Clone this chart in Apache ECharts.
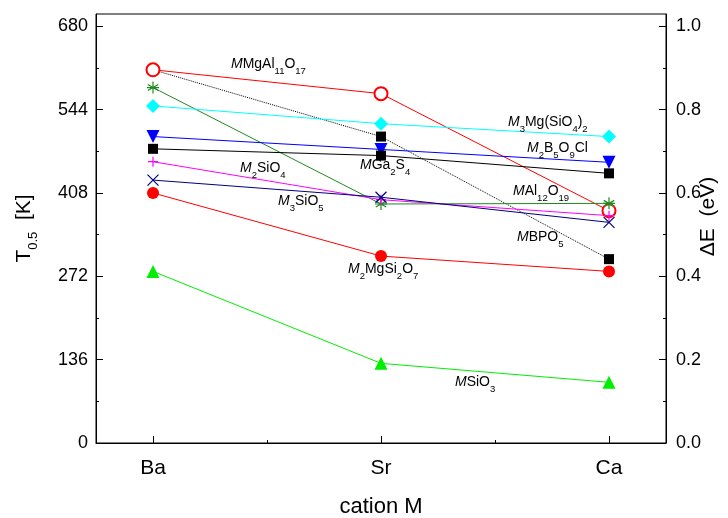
<!DOCTYPE html>
<html lang="en">
  <head>
    <meta charset="UTF-8" />
    <title>T0.5 vs cation M</title>
    <script src="https://cdn.jsdelivr.net/npm/echarts@6.0.0/dist/echarts.min.js"></script>
  </head>
  <body style="margin: 0">
    <div id="main" style="width: 728px; height: 518px"></div>
    <script type="text/javascript">
      const cations = ["Ba", "Sr", "Ca"];
      const leftTicks = [0, 136, 272, 408, 544, 680];
      const leftMinor = [68, 204, 340, 476, 612];
      const rightTicks = [0, 0.2, 0.4, 0.6, 0.8, 1.0];
      const rightMinor = [0.1, 0.3, 0.5, 0.7, 0.9];

      // T0.5 in K for Ba, Sr, Ca
      const mgAl11O17 = [609, 570, 379];
      const bpo5 = [609, 500, 300];
      const al12O19 = [580, 390, 391];
      const mg3SiO4_2 = [550, 521, 500];
      const b5O9Cl = [500, 479, 458];
      const ga2S4 = [480, 469, 440];
      const siO4 = [459, 397, 371];
      const siO5 = [429, 401, 360];
      const mgSi2O7 = [408, 305, 280];
      const siO3 = [280, 130, 99];

      const font = "Liberation Sans, Arial, Helvetica, sans-serif";
      const TMAX = 700;

      const star = "path://M0,-1L0,1M-0.87,-0.5L0.87,0.5M-0.87,0.5L0.87,-0.5M-1,0L1,0";
      const plus = "path://M0,-1L0,1M-1,0L1,0";
      const cross = "path://M-1,-1L1,1M-1,1L1,-1";

      function pts(values) {
        return values.map((v, i) => [i + 1, v]);
      }

      function line(name, values, color, symbol, size, opts) {
        opts = opts || {};
        const s = {
          name: name,
          type: "line",
          data: opts.data || pts(values),
          symbol: symbol,
          symbolSize: size,
          symbolRotate: opts.rotate || 0,
          lineStyle: { color: color, width: 1, type: opts.dash || "solid" },
          itemStyle: { color: color },
        };
        if (opts.stroke) {
          s.itemStyle = { color: "rgba(0,0,0,0)", borderColor: color, borderWidth: 1.2 };
        }
        if (symbol === "emptyCircle") {
          s.itemStyle = { color: color, borderWidth: 1.2 };
        }
        return s;
      }

      const bpo5Data = pts(bpo5);
      bpo5Data[0] = { value: bpo5Data[0], symbol: "none" };

      const series = [
        line("MBPO5", bpo5, "#000000", "rect", 10, { dash: "dotted", data: bpo5Data }),
        line("MMgAl11O17", mgAl11O17, "#ff0000", "emptyCircle", 13),
        line("MAl12O19", al12O19, "#1f8a1f", star, 12, { stroke: true }),
        line("M3Mg(SiO4)2", mg3SiO4_2, "#00ffff", "diamond", 14),
        line("M2B5O9Cl", b5O9Cl, "#0000ff", "triangle", 13, { rotate: 180 }),
        line("MGa2S4", ga2S4, "#000000", "rect", 10),
        line("M2SiO4", siO4, "#ff00ff", plus, 10, { stroke: true }),
        line("M3SiO5", siO5, "#000080", cross, 11, { stroke: true }),
        line("M2MgSi2O7", mgSi2O7, "#ff0000", "circle", 12),
        line("MSiO3", siO3, "#00ee00", "triangle", 13),
      ];

      const rich = {
        i: { fontStyle: "italic", fontSize: 14, lineHeight: 16, padding: [0, 0, 5, 0], verticalAlign: "bottom", fontFamily: font },
        n: { fontSize: 14, lineHeight: 16, padding: [0, 0, 5, 0], verticalAlign: "bottom", fontFamily: font },
        s: { fontSize: 9.5, lineHeight: 10, verticalAlign: "bottom", fontFamily: font },
      };

      const labels = [
        { t: "{i|M}{n|MgAl}{s|11}{n|O}{s|17}", x: 231, y: 68 },
        { t: "{i|M}{s|3}{n|Mg(SiO}{s|4}{n|)}{s|2}", x: 508, y: 126 },
        { t: "{i|M}{s|2}{n|B}{s|5}{n|O}{s|9}{n|Cl}", x: 527, y: 152 },
        { t: "{i|M}{n|Ga}{s|2}{n|S}{s|4}", x: 360, y: 169 },
        { t: "{i|M}{s|2}{n|SiO}{s|4}", x: 240, y: 172 },
        { t: "{i|M}{s|3}{n|SiO}{s|5}", x: 278, y: 205 },
        { t: "{i|M}{n|Al}{s|12}{n|O}{s|19}", x: 513, y: 195 },
        { t: "{i|M}{n|BPO}{s|5}", x: 517, y: 241 },
        { t: "{i|M}{s|2}{n|MgSi}{s|2}{n|O}{s|7}", x: 348, y: 273 },
        { t: "{i|M}{n|SiO}{s|3}", x: 455, y: 386 },
      ];

      const graphic = labels.map((l) => ({
        type: "text",
        x: l.x,
        y: l.y,
        z: 100,
        style: {
          text: l.t,
          rich: rich,
          fill: "#000",
          fontFamily: font,
          fontSize: 14,
          align: "left",
          verticalAlign: "middle",
          textAlign: "left",
          textVerticalAlign: "middle",
        },
      }));

      const black = { lineStyle: { color: "#000", width: 1 } };

      const options = {
        animation: false,
        backgroundColor: "#fff",
        grid: {
          left: 96,
          right: 62,
          top: 14,
          bottom: 75,
          outerBoundsMode: "none",
          containLabel: false,
          show: true,
          borderColor: "#000",
          borderWidth: 1,
          backgroundColor: "transparent",
        },
        xAxis: [
          {
            type: "value",
            min: 0.75,
            max: 3.25,
            position: "bottom",
            name: "cation M",
            nameLocation: "middle",
            nameGap: 53,
            nameTextStyle: { fontSize: 22, fontFamily: font, color: "#000" },
            axisLine: black,
            axisTick: { inside: true, length: 7, lineStyle: { color: "#000" }, customValues: [1, 2, 3] },
            axisLabel: {
              customValues: [1, 2, 3],
              formatter: (v) => cations[Math.round(v) - 1],
              fontSize: 21,
              fontFamily: font,
              color: "#000",
              margin: 15,
            },
            splitLine: { show: false },
          },
          {
            type: "value",
            min: 0.75,
            max: 3.25,
            position: "bottom",
            axisLine: { show: false },
            axisTick: { inside: true, length: 3, lineStyle: { color: "#000" }, customValues: [1.5, 2.5] },
            axisLabel: { show: false },
            splitLine: { show: false },
          },
        ],
        yAxis: [
          {
            type: "value",
            min: 0,
            max: TMAX,
            position: "left",
            name: "{t|T}{s|0.5}{t|  [K]}",
            nameLocation: "middle",
            nameRotate: 90,
            nameGap: 56,
            nameTextStyle: {
              color: "#000",
              rich: {
                t: { fontSize: 21, fontFamily: font, lineHeight: 24, padding: [0, 0, 5, 0], verticalAlign: "bottom" },
                s: { fontSize: 13, fontFamily: font, lineHeight: 14, verticalAlign: "bottom" },
              },
            },
            axisLine: black,
            axisTick: { inside: true, length: 7, lineStyle: { color: "#000" }, customValues: leftTicks },
            axisLabel: { customValues: leftTicks, fontSize: 18, fontFamily: font, color: "#000", margin: 8 },
            splitLine: { show: false },
          },
          {
            type: "value",
            min: 0,
            max: TMAX / 680,
            position: "right",
            name: "ΔE  (eV)",
            nameLocation: "middle",
            nameRotate: 90,
            nameGap: 32,
            nameMoveOverlap: false,
            nameTextStyle: { fontSize: 21, fontFamily: font, color: "#000", padding: [0, 0, 0, 24] },
            axisLine: black,
            axisTick: { inside: true, length: 7, lineStyle: { color: "#000" }, customValues: rightTicks },
            axisLabel: {
              customValues: rightTicks,
              formatter: (v) => v.toFixed(1),
              fontSize: 18,
              fontFamily: font,
              color: "#000",
              margin: 10,
            },
            splitLine: { show: false },
          },
          {
            type: "value",
            min: 0,
            max: TMAX,
            position: "left",
            axisLine: { show: false },
            axisTick: { inside: true, length: 3, lineStyle: { color: "#000" }, customValues: leftMinor },
            axisLabel: { show: false },
            splitLine: { show: false },
          },
          {
            type: "value",
            min: 0,
            max: TMAX / 680,
            position: "right",
            axisLine: { show: false },
            axisTick: { inside: true, length: 3, lineStyle: { color: "#000" }, customValues: rightMinor },
            axisLabel: { show: false },
            splitLine: { show: false },
          },
        ],
        series: series,
        graphic: graphic,
      };

      let myChart = echarts.init(document.getElementById("main"));
      myChart.setOption(options);
    </script>
  </body>
</html>
